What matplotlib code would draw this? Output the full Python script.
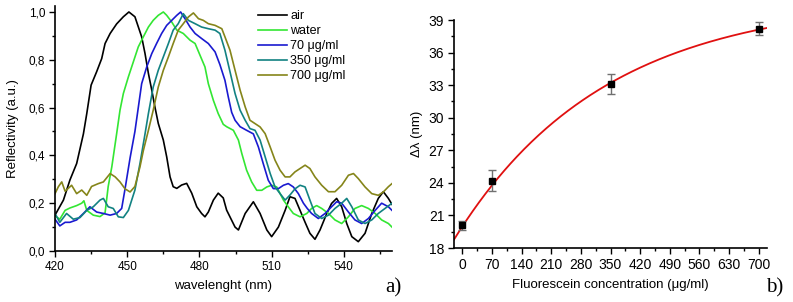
import numpy as np
import matplotlib
matplotlib.use('Agg')
import matplotlib.pyplot as plt
from matplotlib.ticker import MultipleLocator

plt.rcParams['font.family'] = ['Liberation Sans', 'DejaVu Sans']

# --- panel a) reflectivity spectra (read off the picture) ---
air_nm = [420, 423.5, 426.2, 429, 431.8, 433.2, 435, 437.3, 439.4, 440.8, 442.9, 445.6, 448.4,
          450.7, 453.2, 456, 457.4, 458.8, 460.2, 461.5, 462.9, 465, 466.4, 467.8, 469.1, 470.6,
          472.6, 474.7, 476.8, 478.9, 480.9, 482.3, 483.7, 485.8, 487.8, 489.9, 491.3, 494.8,
          496.2, 499, 502.4, 505.2, 508, 510, 512.8, 515.6, 517.6, 519.7, 521.8, 523.9, 525.9,
          528, 530.1, 532.9, 534.9, 537, 539.1, 541.2, 543.3, 546, 548.8, 551.6, 554.3, 556.4,
          558.5, 560]
air_r = [0.15, 0.213, 0.297, 0.366, 0.49, 0.575, 0.694, 0.75, 0.805, 0.868, 0.91, 0.95, 0.98,
         1.0, 0.98, 0.896, 0.826, 0.743, 0.673, 0.603, 0.534, 0.464, 0.394, 0.31, 0.269, 0.262,
         0.276, 0.283, 0.242, 0.185, 0.157, 0.143, 0.163, 0.213, 0.242, 0.222, 0.171, 0.10,
         0.088, 0.157, 0.206, 0.157, 0.088, 0.06, 0.1, 0.17, 0.227, 0.22, 0.17, 0.12, 0.074,
         0.049, 0.088, 0.157, 0.199, 0.22, 0.185, 0.115, 0.06, 0.039, 0.074, 0.157, 0.22, 0.248,
         0.22, 0.195]

water_nm = [420, 422, 424.2, 426.2, 429, 431.1, 432, 433.2, 435.9, 438.7, 440.8, 442.1, 443.6,
            445.6, 447, 448.4, 450.5, 452.5, 454.6, 456.7, 458.8, 460.8, 462.9, 465, 466.4,
            468.5, 470.6, 473.3, 476.1, 478.2, 480.2, 482.3, 483.7, 485.8, 487.8, 489.9, 491.3,
            494.1, 496.2, 497.6, 499.6, 501.7, 503.8, 505.9, 508, 510, 512.1, 514.9, 516.9, 519,
            521.8, 524.6, 526.6, 528.7, 530.8, 533.6, 536.3, 539.1, 541.9, 544.6, 547.4, 550.2,
            553, 555.7, 558.5, 560]
water_r = [0.147, 0.133, 0.17, 0.18, 0.19, 0.2, 0.21, 0.17, 0.15, 0.144, 0.16, 0.27, 0.352,
           0.49, 0.589, 0.659, 0.729, 0.79, 0.854, 0.896, 0.937, 0.965, 0.986, 1.0, 0.986,
           0.958, 0.924, 0.91, 0.882, 0.868, 0.82, 0.77, 0.7, 0.63, 0.575, 0.53, 0.52,
           0.505, 0.464, 0.408, 0.338, 0.289, 0.254, 0.254, 0.268, 0.275, 0.268, 0.213, 0.185, 0.157,
           0.143, 0.157, 0.178, 0.19, 0.178, 0.157, 0.13, 0.115, 0.143, 0.178, 0.19, 0.178,
           0.157, 0.13, 0.115, 0.1]

c70_nm = [420, 422, 424.2, 426.2, 429, 431.8, 434.5, 437.3, 440.1, 442.9, 445.6, 447.7, 449.1,
          451.2, 453.2, 454.6, 456, 458.1, 460.2, 462.2, 464.3, 466.4, 468.5, 470.6, 472.2, 474,
          476.1, 478.2, 480.9, 483.7, 486.5, 488.5, 490.6, 492, 493.4, 494.8, 496.9, 499.6,
          502.4, 504.5, 506.5, 508.6, 510.7, 512.8, 514.9, 516.9, 519, 521.1, 523.2, 524.8,
          526.6, 529.4, 532.2, 534.9, 537, 539.1, 541.9, 544.6, 547.4, 550.2, 553, 555.7,
          558.5, 560]
c70_r = [0.133, 0.105, 0.12, 0.12, 0.13, 0.157, 0.185, 0.163, 0.157, 0.15, 0.157, 0.178, 0.26,
         0.39, 0.5, 0.6, 0.7, 0.77, 0.826, 0.868, 0.91, 0.944, 0.965, 0.986, 1.0, 0.972,
         0.937, 0.91, 0.889, 0.868, 0.833, 0.78, 0.714, 0.644, 0.58, 0.547, 0.52, 0.505,
         0.49, 0.435, 0.366, 0.296, 0.261, 0.261, 0.275, 0.282, 0.268, 0.24, 0.2, 0.178,
         0.157, 0.136, 0.157, 0.185, 0.206, 0.2, 0.163, 0.13, 0.115, 0.136, 0.17, 0.2,
         0.185, 0.17]

c350_nm = [420, 422, 424.8, 427.6, 430.4, 433.2, 435.9, 438.7, 440.1, 442.1, 444.2, 446.3, 448.4,
           450.5, 453.2, 455.3, 457.4, 458.8, 460.8, 462.9, 465, 467.1, 469.1, 471.2, 473.3,
           475.4, 478.2, 480.9, 483.7, 486.5, 488.5, 490.6, 492.7, 494.8, 496.9, 499, 501,
           503.1, 505.2, 507.3, 509.4, 511.4, 513.5, 515.6, 517.6, 519.7, 521.8, 523.9, 525.9,
           528, 530.8, 533.6, 536.3, 539.1, 541.2, 543.3, 546, 548.8, 551.6, 554.3, 557.1, 560]
c350_r = [0.157, 0.12, 0.157, 0.133, 0.14, 0.17, 0.185, 0.213, 0.22, 0.185, 0.178, 0.143, 0.14,
          0.17, 0.255, 0.366, 0.49, 0.575, 0.686, 0.756, 0.812, 0.868, 0.924, 0.951, 0.993,
          0.965, 0.951, 0.937, 0.93, 0.924, 0.91, 0.84, 0.75, 0.659, 0.589, 0.547, 0.512,
          0.505, 0.464, 0.394, 0.324, 0.268, 0.24, 0.213, 0.234, 0.26, 0.275, 0.268, 0.213,
          0.157, 0.136, 0.15, 0.178, 0.2, 0.22, 0.185, 0.13, 0.115, 0.13, 0.157, 0.178, 0.2]

c700_nm = [420, 421.4, 422.8, 424.2, 426.9, 429, 431.1, 433.2, 435.2, 438, 440.1, 442.9, 445,
           447, 449.1, 451.2, 453.2, 455.3, 456.7, 458.8, 460.8, 462.9, 465, 467.1, 469.1,
           471.2, 473.3, 475.4, 477.5, 479.6, 481.6, 483.7, 486.5, 489.3, 490.6, 492.7, 494.8,
           496.9, 499, 501, 503.1, 505.2, 507.3, 509.4, 511.4, 513.5, 515.6, 517.6, 519.7,
           521.8, 523.9, 525.9, 528, 530.8, 533.6, 536.3, 539.1, 541.9, 544, 546, 548.8, 551.6,
           554.3, 556.4, 558.5, 560]
c700_r = [0.24, 0.269, 0.289, 0.25, 0.275, 0.24, 0.255, 0.233, 0.27, 0.282, 0.289, 0.324, 0.31,
          0.289, 0.26, 0.247, 0.27, 0.352, 0.42, 0.505, 0.589, 0.686, 0.756, 0.812, 0.868,
          0.924, 0.951, 0.979, 0.996, 0.972, 0.965, 0.951, 0.944, 0.93, 0.896, 0.84, 0.756,
          0.673, 0.603, 0.547, 0.533, 0.519, 0.491, 0.435, 0.38, 0.338, 0.31, 0.31, 0.331,
          0.345, 0.359, 0.345, 0.31, 0.275, 0.248, 0.248, 0.275, 0.317, 0.324, 0.303, 0.268, 0.24,
          0.233, 0.247, 0.269, 0.282]

labels_a = ['air', 'water', '70 \u03bcg/ml', '350 \u03bcg/ml', '700 \u03bcg/ml']
colors_a = ['#000000', '#33e633', '#1a1ad0', '#128282', '#85851a']
y_ticklabels_a = ['0,0', '0,2', '0,4', '0,6', '0,8', '1,0']

# --- panel b) shift vs concentration ---
conc = [0, 70, 350, 700]
shift = [20.1, 24.2, 33.1, 38.2]
shift_err = [0.4, 0.95, 0.9, 0.6]
# exponential fit parameters: y = y0 + A*(1 - exp(-x/t))
fit_y0, fit_a, fit_t = 20.0, 21.0, 353.0

fig = plt.figure(figsize=(7.93, 3.02), dpi=100)
ax1 = fig.add_axes([55/793, 51/302, 337/793, 245/302])
ax2 = fig.add_axes([454/793, 54/302, 313/793, 228/302])

series = [(air_nm, air_r), (water_nm, water_r), (c70_nm, c70_r), (c350_nm, c350_r), (c700_nm, c700_r)]
for (x, y), lab, col in zip(series, labels_a, colors_a):
    ax1.plot(x, y, color=col, lw=1.2, label=lab)

ax1.set_xlim(420, 560)
ax1.set_ylim(0, 1.025)
ax1.set_xticks([420, 450, 480, 510, 540])
ax1.xaxis.set_minor_locator(MultipleLocator(15))
ax1.set_yticks([0, 0.2, 0.4, 0.6, 0.8, 1.0])
ax1.set_yticklabels(y_ticklabels_a)
ax1.yaxis.set_minor_locator(MultipleLocator(0.1))
ax1.set_xlabel('wavelenght (nm)', fontsize=9.5, labelpad=5)
ax1.set_ylabel('Reflectivity (a.u.)', fontsize=9.5, labelpad=7)
ax1.legend(loc='upper left', bbox_to_anchor=((258-55)/337, (251-10)/245), frameon=False,
           fontsize=9, handlelength=2.3, handletextpad=0.3, labelspacing=0.25,
           borderpad=0, borderaxespad=0)

xs = np.linspace(-20, 720, 300)
ax2.plot(xs, fit_y0 + fit_a*(1 - np.exp(-xs/fit_t)), color='#e01010', lw=1.3, zorder=2)
ax2.errorbar(conc, shift, yerr=shift_err, fmt='s', color='black', ms=4.5,
             ecolor='#707070', elinewidth=1.0, capsize=3, capthick=1.0, zorder=3)
ax2.set_xlim(-20, 720)
ax2.set_ylim(18, 39)
ax2.set_xticks(range(0, 701, 70))
ax2.xaxis.set_minor_locator(MultipleLocator(35))
ax2.set_yticks(range(18, 40, 3))
ax2.yaxis.set_minor_locator(MultipleLocator(1.5))
ax2.set_xlabel('Fluorescein concentration (\u03bcg/ml)', fontsize=9.5, labelpad=5)
ax2.set_ylabel('\u0394\u03bb (nm)', fontsize=9.5, labelpad=4)

for ax in (ax1, ax2):
    for s in ('top', 'right'):
        ax.spines[s].set_visible(False)
    for s in ('left', 'bottom'):
        ax.spines[s].set_linewidth(1.2)
    ax.tick_params(which='major', direction='out', length=4, width=1.0, labelsize=8.5, pad=3)
    ax.tick_params(which='minor', direction='out', length=2.5, width=1.0)
ax2.tick_params(which='major', labelsize=10)

fig.text(393/793, 1 - 288/302, 'a)', family=['Liberation Serif', 'DejaVu Serif'], fontsize=15,
         ha='center', va='center')
fig.text(775/793, 1 - 288/302, 'b)', family=['Liberation Serif', 'DejaVu Serif'], fontsize=15,
         ha='center', va='center')

fig.savefig('out.png', dpi=100)
